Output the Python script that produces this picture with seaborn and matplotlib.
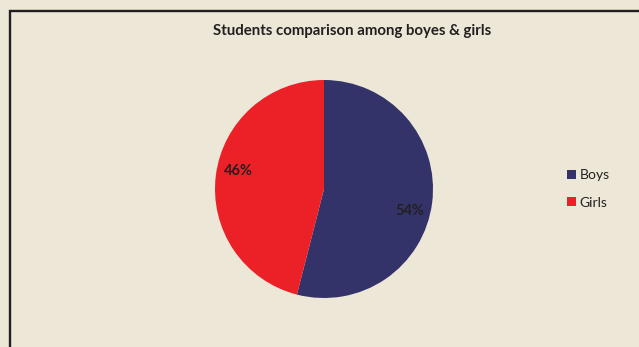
import matplotlib
matplotlib.use("Agg")
import matplotlib.pyplot as plt
from matplotlib.patches import Rectangle
import numpy as np
import seaborn as sns

categories = ["Boys", "Girls"]
values = [54, 46]
pct_labels = ["54%", "46%"]
title = "Students comparison among boyes & girls"

sns.set_style("white")
plt.rcParams['font.family'] = ['Lato', 'DejaVu Sans']

colors = sns.color_palette(["#33336A", "#EC2027"])
bg = "#EDE7D7"
W, H = 639, 347
fig = plt.figure(figsize=(W / 100, H / 100), dpi=100, facecolor=bg)

# frame border (left and top visible, rest cut by image)
fig.patches.append(Rectangle((9.5 / W, -0.1), 1.2, 1 - 11.5 / H + 0.1, transform=fig.transFigure,
                             fill=False, edgecolor="#231F20", linewidth=1.7, zorder=0))

cx, cy, r = 324, 189, 109
ax = fig.add_axes([(cx - r) / W, (H - cy - r) / H, 2 * r / W, 2 * r / H])
ax.set_facecolor(bg)
wedges, texts = ax.pie(values, colors=colors, startangle=90, counterclock=False,
                       labels=pct_labels, labeldistance=0.8,
                       wedgeprops=dict(linewidth=0),
                       textprops=dict(fontsize=10.5, fontweight="bold", color="#231F20"))
for w, t in zip(wedges, texts):
    mid = np.deg2rad((w.theta1 + w.theta2) / 2 - 6)
    t.set_position((0.81 * np.cos(mid), 0.81 * np.sin(mid) - 0.018))
    t.set_horizontalalignment("center")
    t.set_verticalalignment("center")
ax.set_xlim(-1, 1)
ax.set_ylim(-1, 1)
ax.set_aspect("equal")
ax.axis("off")

fig.text(352 / W, 1 - 30.5 / H, title, ha="center", va="center",
         fontsize=10.8, fontweight="bold", color="#231F20")

fig.legend(wedges, categories, loc="center left", bbox_to_anchor=(567 / W, 1 - 189 / H),
           frameon=False, borderpad=0, borderaxespad=0, handlelength=0.65, handleheight=0.65,
           handletextpad=0.25, labelspacing=1.1, prop=dict(size=10), labelcolor="#231F20")

fig.savefig("out.png", dpi=100, facecolor=bg)
